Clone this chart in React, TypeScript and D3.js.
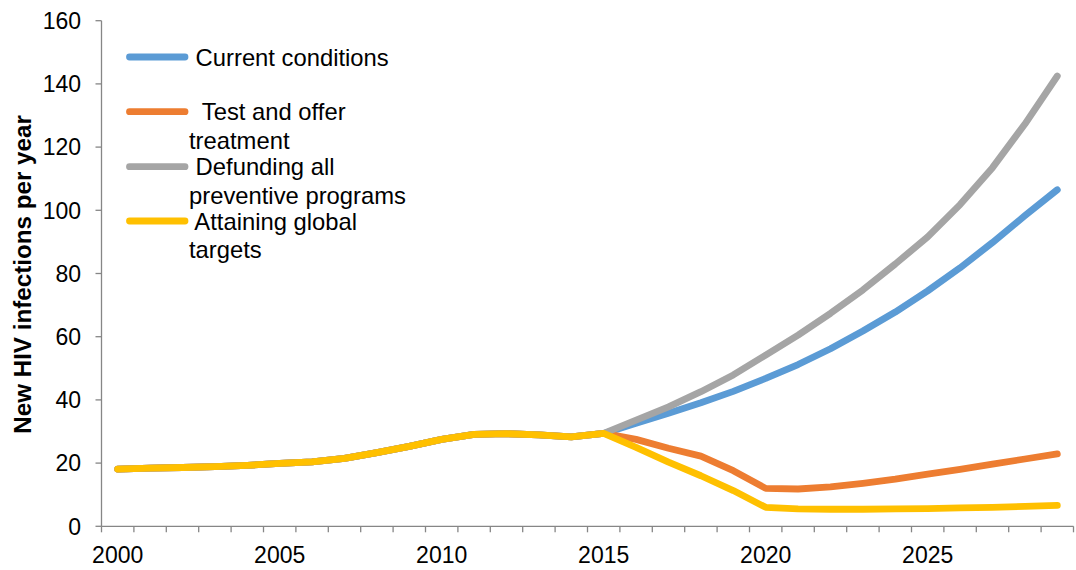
import * as d3 from "d3";

// years on the category axis
const years = d3.range(2000, 2030).map(String);
const labelYears = ["2000", "2005", "2010", "2015", "2020", "2025"];
const yTicks = [0, 20, 40, 60, 80, 100, 120, 140, 160];

// shared history 2000-2015
const history = [18.1, 18.4, 18.6, 18.9, 19.3, 19.9, 20.4, 21.5, 23.3, 25.3, 27.5, 29.1, 29.3, 28.9, 28.3, 29.4];

// projections 2016-2029
const currentConditions = [32.6, 35.8, 39.1, 42.7, 46.8, 51.2, 56.2, 61.8, 67.8, 74.5, 81.8, 89.8, 98.3, 106.5];
const testAndTreat = [27.5, 24.7, 22.2, 17.6, 12.0, 11.8, 12.5, 13.6, 14.9, 16.5, 18.0, 19.7, 21.3, 22.9];
const defunding = [33.6, 37.8, 42.6, 47.9, 54.2, 60.5, 67.4, 74.8, 83.0, 91.6, 101.8, 113.5, 127.3, 142.5];
const globalTargets = [25.0, 20.3, 16.0, 11.3, 6.0, 5.5, 5.4, 5.4, 5.5, 5.6, 5.8, 6.0, 6.3, 6.6];

const seriesNames = [
  [" Current conditions"],
  ["  Test and offer", "treatment"],
  [" Defunding all", "preventive programs"],
  [" Attaining global", "targets"],
];
const seriesColors = ["#5B9BD5", "#ED7D31", "#A5A5A5", "#FFC000"];
const seriesValues = [currentConditions, testAndTreat, defunding, globalTargets].map((p) => history.concat(p));

const W = 1076;
const H = 570;
const font = "Liberation Sans, Arial, sans-serif";

export default function App() {
  const x = d3.scaleBand().domain(years).range([101.5, 1073.5]).padding(0);
  const y = d3.scaleLinear().domain([0, 160]).range([526.3, 20.7]);
  const cx = (yr: string) => (x(yr) as number) + x.bandwidth() / 2;

  const line = d3
    .line<number>()
    .x((_, i) => cx(years[i]))
    .y((d) => y(d));

  const legendY = [57, 111.7, 166.7, 221];
  const axisColor = "#868686";

  return (
    <svg
      width={W}
      height={H}
      style={{ position: "absolute", left: 0, top: 0, background: "#fff" }}
      fontFamily={font}
    >
      {/* y axis */}
      <line x1={101.5} x2={101.5} y1={y(0)} y2={y(160)} stroke={axisColor} strokeWidth={1.3} />
      {yTicks.map((t) => (
        <g key={t}>
          <line x1={95.5} x2={101.5} y1={y(t)} y2={y(t)} stroke={axisColor} strokeWidth={1.3} />
          <text x={81} y={y(t)} dy="0.36em" textAnchor="end" fontSize={23} fill="#000">
            {t}
          </text>
        </g>
      ))}
      <text
        transform={`translate(31,${(y(0) + y(160)) / 2 + 1}) rotate(-90)`}
        textAnchor="middle"
        fontSize={24.2}
        fontWeight="bold"
        fill="#000"
      >
        New HIV infections per year
      </text>

      {/* x axis */}
      <line x1={101.5} x2={1073.5} y1={y(0)} y2={y(0)} stroke={axisColor} strokeWidth={1.3} />
      {years.concat(["end"]).map((yr, i) => {
        const px = i < years.length ? (x(yr) as number) : 1073.5;
        return <line key={yr} x1={px} x2={px} y1={y(0)} y2={y(0) + 6} stroke={axisColor} strokeWidth={1.3} />;
      })}
      {labelYears.map((yr) => (
        <text key={yr} x={cx(yr)} y={562.5} textAnchor="middle" fontSize={23} fill="#000">
          {yr}
        </text>
      ))}

      {/* series */}
      {seriesValues.map((vals, i) => (
        <path
          key={i}
          d={line(vals) as string}
          fill="none"
          stroke={seriesColors[i]}
          strokeWidth={6.8}
          strokeLinecap="round"
          strokeLinejoin="round"
        />
      ))}

      {/* legend */}
      {seriesNames.map((lines, i) => (
        <g key={i}>
          <line
            x1={129.5}
            x2={185}
            y1={legendY[i]}
            y2={legendY[i]}
            stroke={seriesColors[i]}
            strokeWidth={6.8}
            strokeLinecap="round"
          />
          {lines.map((s, j) => (
            <text
              key={j}
              x={189}
              y={legendY[i] + 8.7 + j * 28.3}
              fontSize={23.8}
              fill="#000"
              style={{ whiteSpace: "pre" }}
            >
              {s}
            </text>
          ))}
        </g>
      ))}
    </svg>
  );
}
